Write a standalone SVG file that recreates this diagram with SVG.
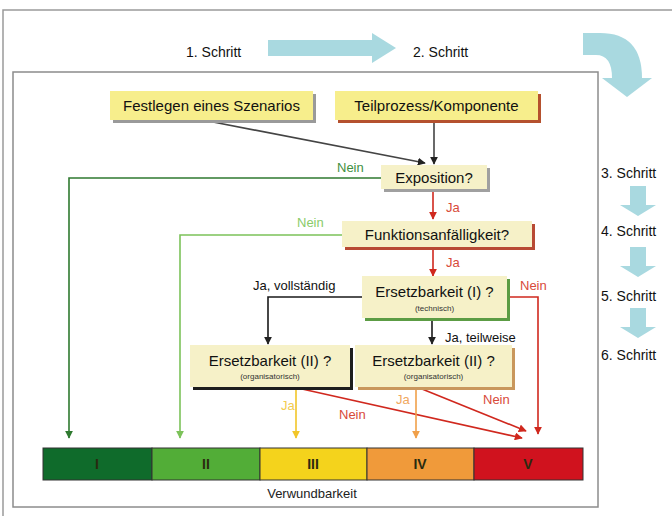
<svg xmlns="http://www.w3.org/2000/svg" width="672" height="516" viewBox="0 0 672 516">
<style>
text{font-family:"Liberation Sans",Arial,sans-serif;}
.step{font-size:14px;fill:#111;}
.lbl{font-size:15px;fill:#111;}
.sub{font-size:8px;fill:#333;}
.top{fill:#f7ee8c;}
.dec{fill:#f6f1c8;}
.ln{fill:none;stroke-width:1.6;}
.num{font-size:14px;font-weight:bold;fill:#2a2a10;text-anchor:middle;}
.bb{stroke:#333;stroke-width:1;}
</style>
<defs>
<marker id="aK" viewBox="0 0 10 10" refX="9" refY="5" markerWidth="5" markerHeight="5" orient="auto"><path d="M0,0L10,5L0,10z" fill="#222"/></marker>
<marker id="aR" viewBox="0 0 10 10" refX="9" refY="5" markerWidth="5" markerHeight="5" orient="auto"><path d="M0,0L10,5L0,10z" fill="#d0281e"/></marker>
<marker id="aDG" viewBox="0 0 10 10" refX="9" refY="5" markerWidth="5" markerHeight="5" orient="auto"><path d="M0,0L10,5L0,10z" fill="#2f7a30"/></marker>
<marker id="aLG" viewBox="0 0 10 10" refX="9" refY="5" markerWidth="5" markerHeight="5" orient="auto"><path d="M0,0L10,5L0,10z" fill="#7cc25a"/></marker>
<marker id="aY" viewBox="0 0 10 10" refX="9" refY="5" markerWidth="5" markerHeight="5" orient="auto"><path d="M0,0L10,5L0,10z" fill="#f2c629"/></marker>
<marker id="aO" viewBox="0 0 10 10" refX="9" refY="5" markerWidth="5" markerHeight="5" orient="auto"><path d="M0,0L10,5L0,10z" fill="#f0a04a"/></marker>
</defs>
<rect width="672" height="516" fill="#fff"/>
<!-- frames -->
<path d="M3,516V10H672" fill="none" stroke="#9a9a9a" stroke-width="1.5"/>
<rect x="13" y="72" width="585" height="435" fill="none" stroke="#8c8c8c" stroke-width="1.5"/>

<!-- step arrows -->
<g id="steps" fill="#a9d9e0">
<path d="M268,40H372V33L396,48L372,63V56H268z"/>
<path d="M583,33H600Q642,33 642,78V78H652L627,97L602,78H612Q612,55 596,55H583z"/>
<path d="M630,186H646V205H656L638,216L620,205H630z"/>
<path d="M630,247H646V266H656L638,277L620,266H630z"/>
<path d="M630,308H646V327H656L638,338L620,327H630z"/>
</g>
<g id="steplabels">
<text class="step" x="186" y="57">1. Schritt</text>
<text class="step" x="413" y="57">2. Schritt</text>
<text class="step" x="601" y="178">3. Schritt</text>
<text class="step" x="601" y="236">4. Schritt</text>
<text class="step" x="601" y="301">5. Schritt</text>
<text class="step" x="601" y="360">6. Schritt</text>
</g>

<!-- connectors -->
<g id="connectors">
<line class="ln" x1="213" y1="122" x2="425" y2="163" stroke="#444" stroke-width="1.3" marker-end="url(#aK)"/>
<line class="ln" x1="434" y1="123" x2="434" y2="164" stroke="#444" stroke-width="1.3" marker-end="url(#aK)"/>
<polyline class="ln" points="382,178 69,178 69,438" stroke="#2f7a30" marker-end="url(#aDG)"/>
<line class="ln" x1="433" y1="191" x2="433" y2="219" stroke="#d0281e" marker-end="url(#aR)"/>
<polyline class="ln" points="342,235 180,235 180,438" stroke="#7cc25a" marker-end="url(#aLG)"/>
<line class="ln" x1="433" y1="250" x2="433" y2="276" stroke="#d0281e" marker-end="url(#aR)"/>
<polyline class="ln" points="362,297 268,297 268,344" stroke="#1a1a1a" stroke-width="2.6" marker-end="url(#aK)"/>
<line class="ln" x1="432" y1="320" x2="432" y2="344" stroke="#1a1a1a" stroke-width="2.6" marker-end="url(#aK)"/>
<polyline class="ln" points="509,297 538,297 538,434" stroke="#d0281e" marker-end="url(#aR)"/>
<line class="ln" x1="296" y1="389" x2="296" y2="438" stroke="#f2c629" marker-end="url(#aY)"/>
<line class="ln" x1="302" y1="389" x2="522" y2="438" stroke="#d0281e" marker-end="url(#aR)"/>
<line class="ln" x1="416" y1="389" x2="416" y2="438" stroke="#f0a04a" marker-end="url(#aO)"/>
<line class="ln" x1="422" y1="389" x2="526" y2="431" stroke="#d0281e" marker-end="url(#aR)"/>
</g>
<g id="edgelabels">
<text x="337" y="172" style="fill:#3f8f3f;font-size:13px">Nein</text>
<text x="297" y="227" style="fill:#8acb6a;font-size:13px">Nein</text>
<text x="446" y="212" style="fill:#d84a3a;font-size:13px">Ja</text>
<text x="446" y="267" style="fill:#d84a3a;font-size:13px">Ja</text>
<text x="520" y="290" style="fill:#d84a3a;font-size:13px">Nein</text>
<text x="253" y="290" style="fill:#111;font-size:13px">Ja, vollständig</text>
<text x="445" y="342" style="fill:#111;font-size:13px">Ja, teilweise</text>
<text x="281" y="410" style="fill:#f2cc50;font-size:13px">Ja</text>
<text x="339" y="419" style="fill:#d84a3a;font-size:13px">Nein</text>
<text x="396" y="404" style="fill:#f0a860;font-size:13px">Ja</text>
<text x="483" y="404" style="fill:#d84a3a;font-size:13px">Nein</text>
</g>

<!-- nodes -->
<g id="festlegen">
<rect x="113" y="94" width="203" height="29" fill="#9a9a9a"/>
<rect class="top" x="110" y="91" width="203" height="29"/>
<text class="lbl" x="211.5" y="111" text-anchor="middle">Festlegen eines Szenarios</text>
</g>
<g id="teilprozess">
<rect x="338" y="94" width="203" height="29" fill="#b5512e"/>
<rect class="top" x="335" y="91" width="203" height="29"/>
<text class="lbl" x="436.5" y="111" text-anchor="middle">Teilprozess/Komponente</text>
</g>
<g id="exposition">
<rect x="384" y="168" width="106" height="24" fill="#a0a0a0"/>
<rect class="dec" x="381" y="165" width="106" height="24"/>
<text class="lbl" x="434" y="183" text-anchor="middle">Exposition?</text>
</g>
<g id="funktion">
<rect x="345" y="224" width="190" height="26" fill="#b84a34"/>
<rect class="dec" x="342" y="221" width="190" height="26"/>
<text class="lbl" x="437" y="240" text-anchor="middle">Funktionsanfälligkeit?</text>
</g>
<g id="ersetz1">
<rect x="365" y="279" width="145" height="42" fill="#5c9c44"/>
<rect class="dec" x="362" y="276" width="145" height="42"/>
<text class="lbl" x="434.5" y="297" text-anchor="middle">Ersetzbarkeit (I) ?</text>
<text class="sub" x="434.5" y="311" text-anchor="middle">(technisch)</text>
</g>
<g id="ersetz2a">
<rect x="193" y="348" width="160" height="42" fill="#1e1e1e"/>
<rect class="dec" x="190" y="345" width="160" height="42"/>
<text class="lbl" x="270" y="366" text-anchor="middle">Ersetzbarkeit (II) ?</text>
<text class="sub" x="270" y="379" text-anchor="middle">(organisatorisch)</text>
</g>
<g id="ersetz2b">
<rect x="358" y="348" width="157" height="42" fill="#c9975c"/>
<rect class="dec" x="355" y="345" width="157" height="42"/>
<text class="lbl" x="433.5" y="366" text-anchor="middle">Ersetzbarkeit (II) ?</text>
<text class="sub" x="433.5" y="379" text-anchor="middle">(organisatorisch)</text>
</g>

<!-- vulnerability bar -->
<g id="bar">
<rect class="bb" x="43" y="448" width="109" height="32" fill="#0f6b2b"/>
<rect class="bb" x="152" y="448" width="108" height="32" fill="#52ad37"/>
<rect class="bb" x="260" y="448" width="107" height="32" fill="#f4d31c"/>
<rect class="bb" x="367" y="448" width="107" height="32" fill="#f09a3a"/>
<rect class="bb" x="474" y="448" width="109" height="32" fill="#d0121e"/>
<text class="num" x="97" y="469">I</text>
<text class="num" x="206" y="469">II</text>
<text class="num" x="313" y="469">III</text>
<text class="num" x="420" y="469">IV</text>
<text class="num" x="528" y="469">V</text>
<text x="312" y="498" text-anchor="middle" style="font-size:13px;fill:#222">Verwundbarkeit</text>
</g>
</svg>
